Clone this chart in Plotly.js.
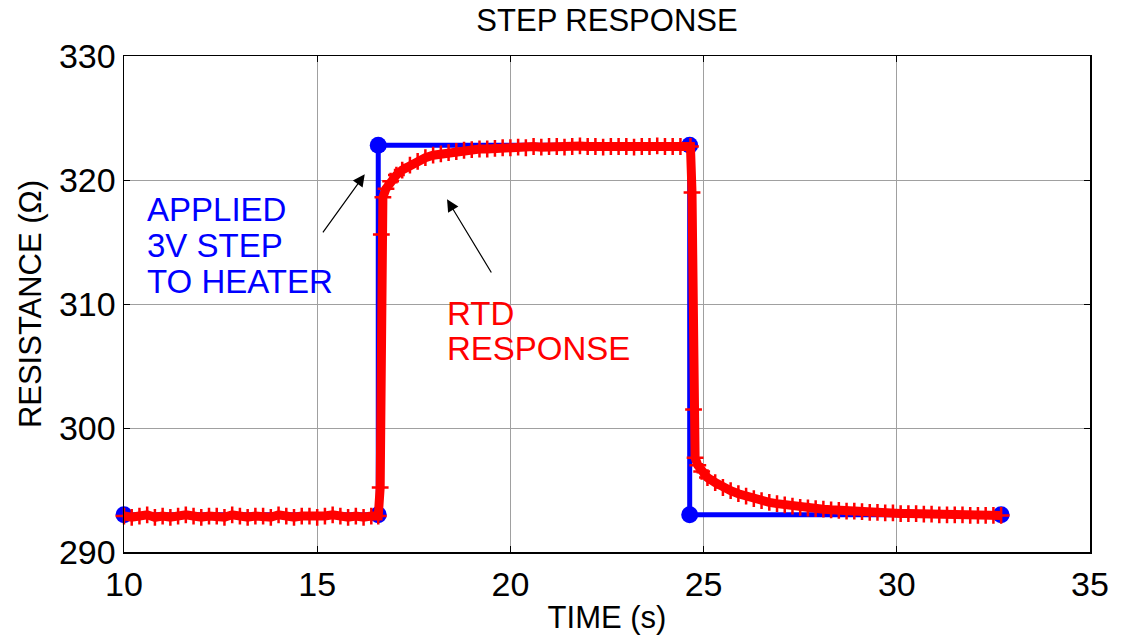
<!DOCTYPE html>
<html>
<head>
<meta charset="utf-8">
<script src="https://cdn.plot.ly/plotly-3.0.1.min.js"></script>
<style>html,body{margin:0;padding:0;background:#fff;}#chart{width:1121px;height:640px;}</style>
</head>
<body>
<div id="chart"></div>
<script>
// Applied step (blue)
const stepTime = [10.0, 16.58, 16.58, 24.64, 24.64, 32.7];
const stepRes  = [293.0, 293.0, 322.8, 322.8, 293.0, 293.0];

// RTD response (red)
const rtdTime = [10.0, 10.2, 10.4, 10.6, 10.8, 11.0, 11.2, 11.4, 11.6, 11.8, 12.0, 12.2, 12.4, 12.6, 12.8, 13.0, 13.2, 13.4, 13.6, 13.8, 14.0, 14.2, 14.4, 14.6, 14.8, 15.0, 15.2, 15.4, 15.6, 15.8, 16.0, 16.2, 16.4, 16.58,
  16.63, 16.66, 16.70, 16.78, 16.9, 17.05, 17.2, 17.4, 17.6, 17.8, 18.0, 18.2, 18.4, 18.6, 18.8, 19.0, 19.2, 19.4, 19.6, 19.8, 20.0, 20.2, 20.4, 20.6, 20.8, 21.0, 21.2, 21.4, 21.6, 21.8, 22.0, 22.2, 22.4, 22.6, 22.8, 23.0, 23.2, 23.4, 23.6, 23.8, 24.0, 24.2, 24.4, 24.66,
  24.70, 24.74, 24.78, 24.85, 24.95, 25.1, 25.3, 25.5, 25.7, 25.9, 26.1, 26.3, 26.5, 26.7, 26.9, 27.1, 27.3, 27.5, 27.7, 27.9, 28.1, 28.3, 28.5, 28.7, 28.9, 29.1, 29.3, 29.5, 29.7, 29.9, 30.1, 30.3, 30.5, 30.7, 30.9, 31.1, 31.3, 31.5, 31.7, 31.9, 32.1, 32.3, 32.5, 32.7];
const rtdRes = [292.9, 292.8, 292.9, 293.0, 292.8, 292.9, 292.8, 292.9, 293.0, 292.9, 292.8, 292.9, 292.9, 292.8, 293.0, 292.9, 292.8, 292.9, 292.9, 292.8, 293.0, 292.9, 292.8, 292.9, 292.9, 292.8, 292.9, 293.0, 292.9, 292.8, 292.9, 292.8, 292.9, 292.9,
  295.2, 315.6, 318.6, 319.3, 319.9, 320.4, 320.8, 321.2, 321.5, 321.8, 322.0, 322.1, 322.2, 322.3, 322.4, 322.45, 322.5, 322.5, 322.55, 322.6, 322.6, 322.65, 322.6, 322.7, 322.65, 322.7, 322.7, 322.65, 322.7, 322.75, 322.7, 322.7, 322.65, 322.7, 322.7, 322.7, 322.65, 322.7, 322.7, 322.75, 322.7, 322.7, 322.7, 322.7,
  319.0, 301.5, 297.6, 297.0, 296.5, 296.0, 295.6, 295.2, 294.95, 294.7, 294.5, 294.3, 294.15, 294.0, 293.9, 293.8, 293.7, 293.6, 293.55, 293.5, 293.45, 293.4, 293.35, 293.3, 293.3, 293.25, 293.2, 293.2, 293.15, 293.15, 293.1, 293.1, 293.1, 293.05, 293.05, 293.0, 293.0, 293.0, 293.0, 292.95, 292.95, 292.95, 292.95, 292.95];

const xTicks = [10, 15, 20, 25, 30, 35];
const yTicks = [290, 300, 310, 320, 330];

const FONT = 'Liberation Sans, Arial, sans-serif';

const traces = [
  {
    x: stepTime, y: stepRes, type: 'scatter', mode: 'lines+markers',
    line: {color: '#0000ff', width: 5},
    marker: {symbol: 'circle', size: 17, color: '#0000ff'},
    cliponaxis: false, showlegend: false, hoverinfo: 'skip'
  },
  {
    x: rtdTime, y: rtdRes, type: 'scatter', mode: 'lines+markers',
    line: {color: '#ff0000', width: 9},
    marker: {symbol: 'cross-thin', size: 12, line: {color: '#ff0000', width: 2.5}},
    cliponaxis: false, showlegend: false, hoverinfo: 'skip'
  }
];

const axisCommon = {
  showline: true, linecolor: '#000', linewidth: 1.5, mirror: 'ticks',
  ticks: 'inside', ticklen: 6, tickcolor: '#000', tickwidth: 1,
  showgrid: true, gridcolor: '#a0a0a0', gridwidth: 1,
  zeroline: false, tickfont: {family: FONT, size: 34, color: '#000'}
};

const layout = {
  width: 1121, height: 640,
  margin: {l: 124, r: 31, t: 56, b: 88},
  paper_bgcolor: '#fff', plot_bgcolor: '#fff',
  font: {family: FONT, color: '#000'},
  title: {text: 'STEP RESPONSE', font: {family: FONT, size: 31, color: '#000'}, x: 0.5, xref: 'paper', xanchor: 'center', y: 0.968, yanchor: 'middle', yref: 'container'},
  xaxis: Object.assign({}, axisCommon, {
    range: [10, 35], tickvals: xTicks, ticktext: xTicks.map(String),
    ticklabelstandoff: 2,
    title: {text: 'TIME (s)', font: {family: FONT, size: 31, color: '#000'}, standoff: 4}
  }),
  yaxis: Object.assign({}, axisCommon, {
    range: [290, 330], tickvals: yTicks, ticktext: yTicks.map(String),
    ticklabelstandoff: 0,
    title: {text: 'RESISTANCE (Ω)', font: {family: FONT, size: 31, color: '#000'}, standoff: 8}
  }),
  annotations: [
    {x: 10.54, y: 317.6, xref: 'x', yref: 'y', text: 'APPLIED', showarrow: false, xanchor: 'left', yanchor: 'middle', font: {family: FONT, size: 33, color: '#0000ff'}},
    {x: 10.54, y: 314.75, xref: 'x', yref: 'y', text: '3V STEP', showarrow: false, xanchor: 'left', yanchor: 'middle', font: {family: FONT, size: 33, color: '#0000ff'}},
    {x: 10.54, y: 311.85, xref: 'x', yref: 'y', text: 'TO HEATER', showarrow: false, xanchor: 'left', yanchor: 'middle', font: {family: FONT, size: 33, color: '#0000ff'}},
    {x: 18.32, y: 309.27, xref: 'x', yref: 'y', text: 'RTD', showarrow: false, xanchor: 'left', yanchor: 'middle', font: {family: FONT, size: 33, color: '#ff0000'}},
    {x: 18.32, y: 306.45, xref: 'x', yref: 'y', text: 'RESPONSE', showarrow: false, xanchor: 'left', yanchor: 'middle', font: {family: FONT, size: 33, color: '#ff0000'}},
    {x: 16.23, y: 320.46, ax: 15.12, ay: 315.65, xref: 'x', yref: 'y', axref: 'x', ayref: 'y', text: '', showarrow: true, arrowhead: 2, arrowsize: 2, arrowwidth: 1.2, arrowcolor: '#000'},
    {x: 18.36, y: 318.44, ax: 19.53, ay: 312.42, xref: 'x', yref: 'y', axref: 'x', ayref: 'y', text: '', showarrow: true, arrowhead: 2, arrowsize: 2, arrowwidth: 1.2, arrowcolor: '#000'}
  ]
};

Plotly.newPlot('chart', traces, layout, {staticPlot: true, displayModeBar: false});
</script>
</body>
</html>
